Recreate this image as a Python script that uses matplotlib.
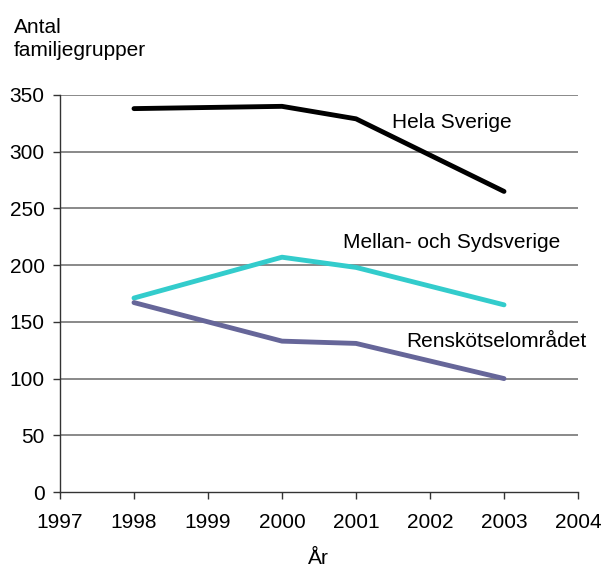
import matplotlib
matplotlib.use("Agg")
import matplotlib.pyplot as plt

years = [1998, 2000, 2001, 2003]
hela = [338, 340, 329, 265]
mellan = [171, 207, 198, 165]
rensk = [167, 133, 131, 100]
series_names = ["Hela Sverige", "Mellan- och Sydsverige", "Renskötselområdet"]
xticks = list(range(1997, 2005))
yticks = list(range(0, 351, 50))

plt.rcParams['font.family'] = ['Liberation Sans', 'DejaVu Sans']
FS = 15

fig = plt.figure(figsize=(6.03, 5.68), dpi=100)
ax = fig.add_axes([60/603, 1-492/568, (578-60)/603, (492-95)/568])

for y in yticks[1:]:
    ax.axhline(y, color='#808080', lw=1.3, zorder=1)

ax.plot(years, hela, color='black', lw=3.5, solid_capstyle='round', zorder=3)
ax.plot(years, mellan, color='#33CCCC', lw=3.5, solid_capstyle='round', zorder=3)
ax.plot(years, rensk, color='#666699', lw=3.5, solid_capstyle='round', zorder=3)

ax.set_xlim(1997, 2004)
ax.set_ylim(0, 350)
ax.set_xticks(xticks)
ax.set_yticks(yticks)
ax.tick_params(direction='out', length=5, width=1, colors='#333333', labelcolor='black', labelsize=FS)
ax.tick_params(axis='x', pad=10)
ax.tick_params(axis='y', pad=6)
for s in ['top', 'right']:
    ax.spines[s].set_visible(False)
for s in ['left', 'bottom']:
    ax.spines[s].set_color('#333333')
    ax.spines[s].set_linewidth(1)

ax.text(2001.49, 326, series_names[0], fontsize=FS, va='center', ha='left')
ax.text(2000.82, 220.4, series_names[1], fontsize=FS, va='center', ha='left')
ax.text(2001.68, 133.1, series_names[2], fontsize=FS, va='center', ha='left')

fig.text(14/603, 1-18/568, "Antal\nfamiljegrupper", fontsize=FS, va='top', ha='left', linespacing=1.25)
fig.text(318/603, 1-558/568, "År", fontsize=FS, va='center', ha='center')

fig.savefig("out.png", dpi=100)
